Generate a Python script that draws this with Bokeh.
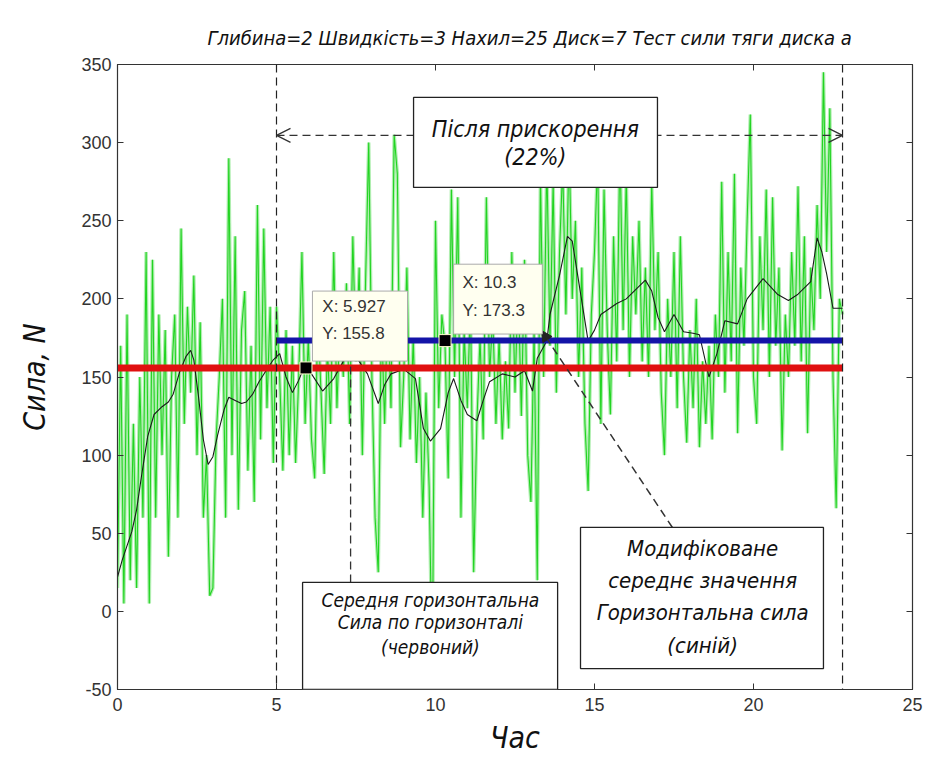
from bokeh.plotting import figure
from bokeh.models import (Range1d, LinearAxis, FixedTicker, Span, BoxAnnotation,
                          Label, Arrow, OpenHead, NormalHead, CustomJSTickFormatter)
from bokeh.embed import file_html
from bokeh.resources import INLINE

# ---------------- data ----------------
sample_step = 0.1
green_force = [
    15, 170, 5, 190, 20, 120, 15, 150, 60, 230,
    5, 225, 60, 190, 100, 180, 35, 150, 190, 60,
    245, 120, 195, 140, 215, 100, 185, 60, 100, 10,
    15, 110, 150, 200, 60, 290, 100, 240, 65, 180,
    205, 90, 170, 70, 260, 110, 245, 130, 195, 95,
    195, 150, 90, 180, 100, 170, 95, 150, 230, 120,
    175, 110, 85, 190, 140, 88, 170, 120, 230, 130,
    190, 150, 210, 120, 240, 160, 220, 100, 210, 300,
    150, 60, 25, 190, 120, 200, 130, 305, 280, 105,
    150, 220, 110, 175, 95, 150, 60, 140, 80, -40,
    250, 130, 190, 170, 85, 270, 150, 265, 60, 180,
    130, 200, 25, 120, 175, 110, 265, 150, 190, 120,
    175, 110, 160, 117, 230, 140, 210, 125, 225, 100,
    70, 180, 20, 280, 150, 290, 170, 275, 140, 230,
    285, 190, 300, 200, 250, 150, 220, 120, 77, 190,
    230, 290, 120, 270, 180, 126, 240, 160, 300, 180,
    280, 150, 240, 190, 250, 160, 220, 150, 275, 180,
    230, 140, 100, 200, 150, 230, 130, 240, 150, 108,
    180, 130, 200, 105, 160, 120, 170, 110, 190, 150,
    275, 140, 230, 160, 280, 114, 220, 170, 250, 318,
    150, 120, 240, 180, 270, 150, 265, 170, 220, 103,
    190, 150, 230, 170, 272, 160, 240, 114, 220, 180,
    260, 200, 345, 230, 322, 150, 66, 200, 190,
]
green_time = [round(i * sample_step, 2) for i in range(len(green_force))]

black_time = [0, 0.15, 0.45, 0.6, 0.75, 0.95, 1.15, 1.4, 1.6, 1.75, 1.95, 2.15, 2.3, 2.4,
              2.55, 2.7, 2.85, 3.0, 3.15, 3.35, 3.5, 3.7, 3.9, 4.05, 4.25, 4.45, 4.7, 4.9,
              5.1, 5.3, 5.5, 5.7, 5.9, 6.1, 6.45, 6.8, 7.1, 7.33, 7.6, 7.86, 8.2, 8.4, 8.6,
              9.0, 9.37, 9.62, 9.84, 10.16, 10.4, 10.57, 10.8, 11.0, 11.3, 11.5, 11.7, 12.1,
              12.5, 12.8, 13.05, 13.2, 13.5, 13.6, 13.9, 14.15, 14.3, 14.55, 14.8, 15.0,
              15.2, 15.7, 16.0, 16.35, 16.6, 16.8, 17.0, 17.2, 17.5, 17.8, 18.1, 18.3,
              18.6, 18.85, 19.1, 19.5, 19.8, 20.3, 20.75, 21.1, 21.4, 21.8, 22.0, 22.15,
              22.3, 22.5, 22.8]
black_force = [22, 33, 51, 65, 86, 112, 126, 131, 134, 139, 153, 163, 167, 161,
               137, 110, 94, 99, 113, 129, 137, 135, 133, 134, 139, 147, 155, 161,
               165, 150, 140, 148, 158, 152, 141, 149, 160, 166, 160, 152, 133, 145, 152,
               155, 149, 117, 109, 117, 140, 149, 135, 126, 122, 135, 147, 152,
               150, 154, 141, 162, 173, 190, 215, 240, 237, 205, 173, 180,
               190, 197, 200, 207, 212, 205, 188, 179, 190, 179, 178, 177,
               150, 165, 186, 184, 200, 213, 203, 199, 203, 211, 239, 230,
               216, 194, 194]

mean_time = [0, 22.8]
mean_force = [155.8, 155.8]
modified_time = [5, 22.8]
modified_force = [173.3, 173.3]
tip_time = [5.927, 10.3]
tip_force = [155.8, 173.3]

x_ticks = [0, 5, 10, 15, 20, 25]
y_ticks = [-50, 0, 50, 100, 150, 200, 250, 300, 350]

TITLE = "Глибина=2 Швидкість=3 Нахил=25 Диск=7 Тест сили тяги диска a"
TECH = "DejaVu Sans Condensed"
ARIAL = "Liberation Sans"

p = figure(width=926, height=761, output_backend="svg", toolbar_location=None,
           x_range=Range1d(0, 25), y_range=Range1d(-50, 350),
           min_border_left=117, min_border_right=14, min_border_top=64, min_border_bottom=72)
p.background_fill_color = "white"
p.border_fill_color = "white"
p.grid.visible = False
p.outline_line_color = "#333333"
p.outline_line_width = 1.2

p.title.text = TITLE
p.title.text_font = TECH
p.title.text_font_style = "italic"
p.title.text_font_size = "20px"
p.title.text_color = "#111111"
p.title.align = "left"
p.title.offset = 90
p.title.standoff = 30

for ax in (p.xaxis[0], p.yaxis[0]):
    ax.major_tick_in = 6
    ax.major_tick_out = 0
    ax.minor_tick_line_color = None
    ax.axis_line_color = "#333333"
    ax.major_tick_line_color = "#333333"
    ax.major_label_text_font = ARIAL
    ax.major_label_text_font_size = "18px"
    ax.major_label_text_color = "#333333"
    ax.axis_label_text_font = TECH
    ax.axis_label_text_font_style = "italic"
    ax.axis_label_text_font_size = "30px"
    ax.axis_label_text_color = "#111111"

p.xaxis[0].ticker = FixedTicker(ticks=x_ticks)
p.yaxis[0].ticker = FixedTicker(ticks=y_ticks)
p.yaxis[0].major_label_overrides = {-50: "-50"}
p.xaxis[0].axis_label = "Час"
p.yaxis[0].axis_label = "Сила, N"
p.xaxis[0].major_label_standoff = 8
p.yaxis[0].major_label_standoff = 6
p.xaxis[0].axis_label_standoff = 6
p.yaxis[0].axis_label_standoff = 26

blank = CustomJSTickFormatter(code="return ''")
top_axis = LinearAxis(ticker=FixedTicker(ticks=x_ticks), formatter=blank,
                      major_tick_in=6, major_tick_out=0, minor_tick_line_color=None,
                      axis_line_color=None, major_tick_line_color="#333333")
right_axis = LinearAxis(ticker=FixedTicker(ticks=y_ticks), formatter=blank,
                        major_tick_in=6, major_tick_out=0, minor_tick_line_color=None,
                        axis_line_color=None, major_tick_line_color="#333333")
p.add_layout(top_axis, "above")
p.add_layout(right_axis, "right")

# signal
p.line(green_time, green_force, line_color="#a6eca6", line_width=3.5, line_alpha=0.9)
p.line(green_time, green_force, line_color="#22d422", line_width=1.1)
p.line(black_time, black_force, line_color="#1a1a1a", line_width=1.1)
p.line(mean_time, mean_force, line_color="#e01010", line_width=7)
p.line(modified_time, modified_force, line_color="#1414a8", line_width=6)

for xv in (5, 22.8):
    p.add_layout(Span(location=xv, dimension="height", line_color="#222222",
                      line_dash="8 5", line_width=1.2))

# double arrow "after acceleration"
p.add_layout(Arrow(x_start=5, y_start=304.6, x_end=22.8, y_end=304.6,
                   line_color="#333333", line_dash="8 5", line_width=1.3,
                   start=OpenHead(size=14, line_color="#333333", line_width=1.3),
                   end=OpenHead(size=14, line_color="#333333", line_width=1.3)))

# vertical dashed pointer from datatip 1
p.add_layout(Arrow(x_start=7.33, y_start=18.5, x_end=7.33, y_end=167,
                   line_color="#333333", line_dash="8 5", line_width=1.3,
                   end=OpenHead(size=9, line_color="#222222", line_width=1.3)))

# diagonal dashed pointer to datatip 2
p.add_layout(Arrow(x_start=17.45, y_start=53.7, x_end=13.33, y_end=179.8,
                   line_color="#333333", line_dash="8 5", line_width=1.5,
                   end=NormalHead(size=11, fill_color="#222222", line_color="#222222")))

box_style = dict(fill_color="white", fill_alpha=1.0, line_color="#222222",
                 line_alpha=1.0, line_width=1.3)
p.add_layout(BoxAnnotation(left=9.31, right=16.98, bottom=271.3, top=328.9, **box_style))
p.add_layout(BoxAnnotation(left=5.82, right=13.84, bottom=-50, top=18.5, **box_style))
p.add_layout(BoxAnnotation(left=14.56, right=22.2, bottom=-36.6, top=53.7, **box_style))

tip_style = dict(fill_color="#fffff0", fill_alpha=1.0, line_color="#aaaaaa",
                 line_alpha=1.0, line_width=1)
p.add_layout(BoxAnnotation(left=6.13, right=9.12, bottom=160.2, top=205, **tip_style))
p.add_layout(BoxAnnotation(left=10.57, right=13.36, bottom=177.5, top=222.2, **tip_style))

p.scatter(tip_time, tip_force, marker="square", size=12, fill_color="black",
          line_color="#ffffcc", line_width=1)


def lab(x, y, t, size, font=TECH, italic=True, align="center", color="#111111"):
    p.add_layout(Label(x=x, y=y, text=t, text_font=font, text_font_size=size,
                       text_font_style="italic" if italic else "normal",
                       text_align=align, text_baseline="middle", text_color=color))


lab(13.14, 309.0, "Після прискорення", "23px")
lab(13.14, 290.5, "(22%)", "23px")
lab(9.84, 7.0, "Середня горизонтальна", "19px")
lab(9.84, -7.1, "Сила по горизонталі", "19px")
lab(9.84, -22.5, "(червоний)", "19px")
lab(18.4, 40.2, "Модифіковане", "22px")
lab(18.4, 19.8, "середнє значення", "22px")
lab(18.4, -0.7, "Горизонтальна сила", "22px")
lab(18.4, -21.8, "(синій)", "22px")
lab(6.44, 195.1, "X: 5.927", "17px", font=ARIAL, italic=False, align="left", color="#333333")
lab(6.44, 177.8, "Y: 155.8", "17px", font=ARIAL, italic=False, align="left", color="#333333")
lab(10.85, 210.5, "X: 10.3", "17px", font=ARIAL, italic=False, align="left", color="#333333")
lab(10.85, 192.6, "Y: 173.3", "17px", font=ARIAL, italic=False, align="left", color="#333333")

open("out.html", "w").write(file_html(p, INLINE))
